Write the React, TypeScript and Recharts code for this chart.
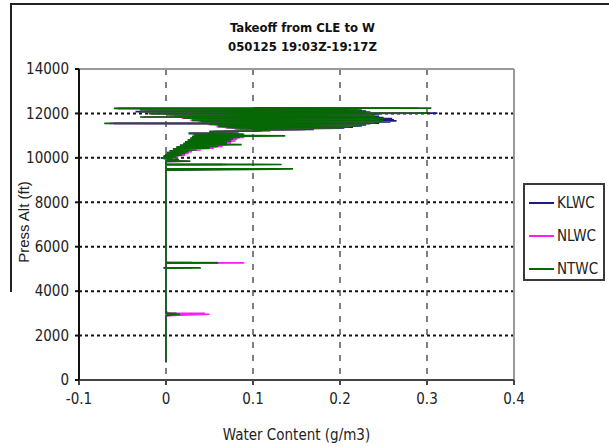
import {
  ScatterChart,
  Scatter,
  XAxis,
  YAxis,
  CartesianGrid,
  ReferenceLine,
  Legend,
} from "recharts";

// altitude samples in time order (ft), shared by the three probes
// one line per stretch of the climb: 3000 ft spike, 5000 ft spike,
// 9500-9900 spikes, 10000-11200 rising band, 11250-12250 level-off band
const ALT = [
  800, 2900, 2960, 2970, 3000, 3010, 3100,
  5040, 5050, 5060, 5260, 5270, 5280, 5290, 5300,
  9450, 9500, 9510, 9690, 9700, 9710, 9840, 9850, 9860, 9920, 9960,
  10000, 10040, 10080, 10120, 10160, 10200, 10240, 10280, 10320, 10360, 10400, 10440, 10480, 10520, 10560, 10600,
  10640, 10680, 10720, 10760, 10800, 10840, 10880, 10920, 10960, 10990, 11020, 11060, 11100, 11140, 11180, 11220,
  11260, 11285, 11310, 11335, 11360, 11385, 11410, 11435, 11460, 11485,
  11510, 11535, 11550, 11565, 11590, 11615, 11640, 11665, 11690, 11715,
  11740, 11765, 11790, 11815, 11840, 11865, 11890, 11915, 11940, 11965,
  11990, 12010, 12030, 12055, 12080, 12105, 12130, 12155, 12180, 12205,
  12230, 12240, 12250,
];

const KLWC = [
  0, 0, 0.002, 0, 0.004, 0, 0,
  0, -0.003, 0, 0, 0.005, 0, 0.003, 0,
  0, 0.06, 0, 0, 0.065, 0, 0, 0.02, 0, 0.01, 0,
  -0.006, 0.01, -0.003, 0.015, -0.001, 0.02, 0.001, 0.024, 0.004, 0.033, 0.008, 0.048, 0.012, 0.058, 0.016, 0.06,
  0.02, 0.068, 0.022, 0.072, 0.025, 0.075, 0.028, 0.08, 0.03, 0.085, 0.032, 0.088, 0.026, 0.084, 0.05, 0.11,
  0.105, 0.17, 0.085, 0.205, 0.075, 0.215, 0.065, 0.225, 0.065, 0.23,
  0.055, 0.235, -0.06, 0.245, 0.055, 0.258, 0.045, 0.265, 0.035, 0.262,
  0.035, 0.26, 0.025, 0.25, -0.025, 0.245, 0.015, 0.24, 0.005, 0.245,
  -0.015, 0.312, -0.005, 0.235, -0.035, 0.23, -0.025, 0.225, -0.03, 0.215,
  -0.055, 0.27, 0.1,
];

const NLWC = [
  0, 0, 0.05, 0, 0.045, 0.002, 0,
  0, 0.03, 0, 0, 0.09, 0, 0.06, 0,
  0, 0.085, 0, 0, 0.07, 0, 0, 0.025, 0, 0.012, 0,
  -0.004, 0.014, 0, 0.022, 0.002, 0.026, 0.004, 0.03, 0.01, 0.04, 0.014, 0.055, 0.02, 0.065, 0.024, 0.07,
  0.03, 0.075, 0.03, 0.08, 0.032, 0.082, 0.035, 0.09, 0.04, 0.095, 0.04, 0.088, 0.03, 0.08, 0.055, 0.1,
  0.095, 0.155, 0.078, 0.195, 0.068, 0.205, 0.058, 0.215, 0.058, 0.22,
  0.048, 0.225, -0.065, 0.235, 0.048, 0.24, 0.038, 0.245, 0.028, 0.24,
  0.028, 0.245, 0.018, 0.24, -0.028, 0.235, 0.008, 0.23, 0, 0.235,
  -0.018, 0.29, -0.008, 0.225, -0.028, 0.22, -0.018, 0.215, -0.028, 0.205,
  -0.058, 0.29, 0.1,
];

const NTWC = [
  0, 0, 0.016, 0, 0.012, 0, 0,
  0, 0.04, 0, 0, 0.06, 0, 0.03, 0,
  0, 0.146, 0, 0, 0.133, 0, 0, 0.028, 0, 0.015, 0,
  -0.005, 0.012, -0.002, 0.018, 0, 0.022, 0.002, 0.026, 0.005, 0.035, 0.008, 0.05, 0.012, 0.06, 0.016, 0.087,
  0.02, 0.07, 0.022, 0.075, 0.025, 0.077, 0.028, 0.085, 0.03, 0.137, 0.032, 0.09, 0.026, 0.082, 0.05, 0.12,
  0.1, 0.16, 0.08, 0.2, 0.07, 0.21, 0.06, 0.22, 0.06, 0.225,
  0.05, 0.23, -0.071, 0.24, 0.05, 0.245, 0.04, 0.25, 0.03, 0.245,
  0.03, 0.25, 0.02, 0.245, -0.03, 0.24, 0.01, 0.235, 0, 0.24,
  -0.02, 0.3, -0.01, 0.23, -0.03, 0.225, -0.02, 0.22, -0.03, 0.21,
  -0.06, 0.305, 0.1,
];

const SERIES = [
  { name: "KLWC", values: KLWC, color: "#1c1c80" },
  { name: "NLWC", values: NLWC, color: "#ff1cff" },
  { name: "NTWC", values: NTWC, color: "#056805" },
];

const X_TICKS = [-0.1, 0, 0.1, 0.2, 0.3, 0.4];
const Y_TICKS = [0, 2000, 4000, 6000, 8000, 10000, 12000, 14000];

const NARROW = '"Liberation Sans Narrow", "Arial Narrow", "DejaVu Sans Condensed", sans-serif';

function LegendBox() {
  return (
    <div
      style={{
        position: "absolute",
        left: 523,
        top: 183,
        width: 82,
        height: 98,
        border: "2px solid #3a3a3a",
        background: "#fff",
        boxSizing: "border-box",
        fontFamily: NARROW,
        fontSize: 15,
        color: "#222",
      }}
    >
      {SERIES.map((s, i) => (
        <div
          key={s.name}
          style={{
            position: "absolute",
            left: 4,
            top: 8 + i * 33,
            display: "flex",
            alignItems: "center",
            height: 20,
          }}
        >
          <span
            style={{
              display: "inline-block",
              width: 25,
              height: 2,
              background: s.color,
              marginRight: 3,
            }}
          />
          <span>{s.name}</span>
        </div>
      ))}
    </div>
  );
}

export default function App() {
  const seriesData = SERIES.map((s) => ({
    ...s,
    points: ALT.map((y, i) => ({ x: s.values[i], y })),
  }));

  return (
    <div
      style={{
        position: "absolute",
        left: 0,
        top: 0,
        width: 609,
        height: 447,
        background: "#fff",
        overflow: "hidden",
      }}
    >
      <div
        style={{
          position: "absolute",
          left: 10,
          top: 3,
          width: 599,
          height: 287,
          borderTop: "2px solid #222",
          borderLeft: "2px solid #222",
        }}
      />
      <div
        style={{
          position: "absolute",
          left: 0,
          width: 609,
          top: 20,
          textAlign: "center",
          fontFamily: NARROW,
          fontWeight: "bold",
          fontSize: 13,
          color: "#111",
        }}
      >
        <div style={{ marginLeft: -4 }}>Takeoff from CLE to W</div>
        <div style={{ marginLeft: -4, marginTop: 4 }}>050125 19:03Z-19:17Z</div>
      </div>
      <div
        style={{
          position: "absolute",
          left: 23,
          top: 222,
          transform: "translate(-50%, -50%) rotate(-90deg)",
          whiteSpace: "nowrap",
          fontFamily: '"Liberation Sans", Arial, sans-serif',
          fontSize: 15,
          color: "#222",
        }}
      >
        Press Alt (ft)
      </div>
      <ScatterChart
        width={609}
        height={447}
        margin={{ top: 69, right: 95, left: 29, bottom: 37 }}
        style={{ position: "absolute", left: 0, top: 0 }}
      >
        <CartesianGrid
          vertical={false}
          stroke="#111"
          strokeWidth={2}
          strokeDasharray="3 3"
        />
        <CartesianGrid
          horizontal={false}
          stroke="#555"
          strokeWidth={1.5}
          strokeDasharray="6 7"
        />
        <XAxis
          type="number"
          dataKey="x"
          domain={[-0.1, 0.4]}
          ticks={X_TICKS}
          allowDataOverflow
          height={30}
          tickSize={5}
          tickMargin={8}
          stroke="#444"
          strokeWidth={2}
          tick={{ fontSize: 15, fill: "#222", fontFamily: NARROW }}
          label={{
            value: "Water Content (g/m3)",
            position: "insideBottom",
            offset: -30,
            style: { fontSize: 15, fill: "#222", fontFamily: NARROW },
          }}
        />
        <YAxis
          type="number"
          dataKey="y"
          domain={[0, 14000]}
          ticks={Y_TICKS}
          allowDataOverflow
          width={50}
          tickSize={4}
          tickMargin={6}
          stroke="#111"
          strokeWidth={2}
          tick={{ fontSize: 15, fill: "#222", fontFamily: NARROW }}
        />
        <ReferenceLine y={14000} stroke="#9a9a9a" strokeWidth={2} />
        <ReferenceLine x={0.4} stroke="#9a9a9a" strokeWidth={2} />
        {seriesData.map((s) => (
          <Scatter
            key={s.name}
            name={s.name}
            data={s.points}
            line={{ stroke: s.color, strokeWidth: 1.7 }}
            shape={() => <g />}
            isAnimationActive={false}
          />
        ))}
        <Legend content={() => null} />
      </ScatterChart>
      <LegendBox />
    </div>
  );
}
